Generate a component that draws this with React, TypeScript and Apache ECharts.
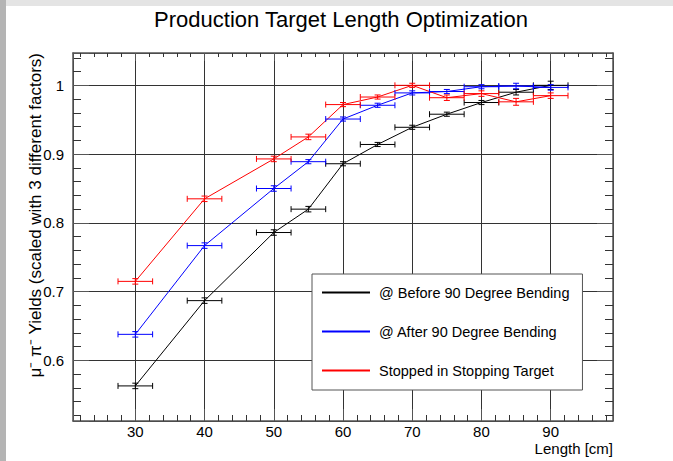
import React, { useEffect, useRef } from "react";
import * as echarts from "echarts";

const lengths = [30, 40, 50, 55, 60, 65, 70, 75, 80, 85, 90];
const lengthErr = [2.5, 2.5, 2.5, 2.5, 2.5, 2.5, 2.5, 2.5, 2.5, 2.5, 2.5];
const beforeYield = [0.563, 0.687, 0.786, 0.82, 0.886, 0.914, 0.939, 0.958, 0.975, 0.99, 1.0];
const beforeErr = [0.004, 0.004, 0.004, 0.004, 0.003, 0.003, 0.003, 0.003, 0.003, 0.004, 0.006];
const afterYield = [0.638, 0.767, 0.85, 0.889, 0.951, 0.971, 0.989, 0.991, 0.998, 0.999, 0.997];
const afterErr = [0.004, 0.004, 0.004, 0.003, 0.003, 0.003, 0.003, 0.003, 0.003, 0.004, 0.004];
const stoppedYield = [0.715, 0.835, 0.893, 0.925, 0.972, 0.983, 1.0, 0.982, 0.988, 0.976, 0.985];
const stoppedErr = [0.004, 0.004, 0.004, 0.004, 0.003, 0.003, 0.003, 0.004, 0.004, 0.005, 0.004];
const seriesNames = [
  "@ Before 90 Degree Bending",
  "@ After 90 Degree Bending",
  "Stopped in Stopping Target",
];
const seriesColors = ["#000000", "#0000ff", "#ff0000"];
const xRange = [21, 99];
const yRange = [0.512, 1.047];
const titleText = "Production Target Length Optimization";
const yTitle = "\u03bc\u207b \u03c0\u207b Yields (scaled with 3 different factors)";
const xTitle = "Length [cm]";

const FONT = "'Liberation Sans', Arial, Helvetica, sans-serif";

function errorBarRenderer(color: string) {
  return (params: any, api: any) => {
    const x = api.value(0);
    const y = api.value(1);
    const ex = api.value(2);
    const ey = api.value(3);
    const c = api.coord([x, y]);
    const l = api.coord([x - ex, y]);
    const r = api.coord([x + ex, y]);
    const t = api.coord([x, y + ey]);
    const b = api.coord([x, y - ey]);
    const cap = 3;
    const style = { stroke: color, lineWidth: 1 };
    const ln = (x1: number, y1: number, x2: number, y2: number) => ({
      type: "line",
      shape: { x1, y1, x2, y2 },
      style,
    });
    return {
      type: "group",
      children: [
        ln(l[0], c[1], r[0], c[1]),
        ln(l[0], c[1] - cap, l[0], c[1] + cap),
        ln(r[0], c[1] - cap, r[0], c[1] + cap),
        ln(c[0], t[1], c[0], b[1]),
        ln(c[0] - cap, t[1], c[0] + cap, t[1]),
        ln(c[0] - cap, b[1], c[0] + cap, b[1]),
      ],
    };
  };
}

export default function App() {
  const ref = useRef<HTMLDivElement>(null);

  useEffect(() => {
    document.body.style.margin = "0";
    if (!ref.current) return;
    const chart = echarts.init(ref.current, null, { renderer: "svg" });

    const yieldSets = [beforeYield, afterYield, stoppedYield];
    const errSets = [beforeErr, afterErr, stoppedErr];

    const lineSeries = yieldSets.map((ys, k) => ({
      type: "line",
      name: seriesNames[k],
      data: lengths.map((x, i) => [x, ys[i]]),
      symbol: "none",
      showSymbol: false,
      lineStyle: { color: seriesColors[k], width: 1 },
      itemStyle: { color: seriesColors[k] },
      z: 3,
    }));

    const errSeries = yieldSets.map((ys, k) => ({
      type: "custom",
      name: "err" + k,
      data: lengths.map((x, i) => [x, ys[i], lengthErr[i], errSets[k][i]]),
      encode: { x: 0, y: 1 },
      renderItem: errorBarRenderer(seriesColors[k]),
      z: 4,
    }));

    const frameColor = "#555555";
    const gridColor = "#333333";

    const baseX = {
      type: "value",
      min: xRange[0],
      max: xRange[1],
      splitNumber: 8,
      minInterval: 10,
      maxInterval: 10,
    };
    const baseY = {
      type: "value",
      min: yRange[0],
      max: yRange[1],
      splitNumber: 5,
      minInterval: 0.1,
      maxInterval: 0.1,
    };

    chart.setOption({
      animation: false,
      backgroundColor: "#ffffff",
      grid: { left: 73, right: 60, top: 53, bottom: 40, containLabel: false },
      graphic: [
        { type: "rect", shape: { x: 0, y: 0, width: 6, height: 461 }, style: { fill: "#b4b4b4" }, silent: true },
        { type: "rect", shape: { x: 6, y: 0, width: 667, height: 6 }, style: { fill: "#e4e4e4" }, silent: true },
        {
          type: "text",
          x: 341,
          y: 19,
          style: { text: titleText, fontSize: 22, fontFamily: FONT, fill: "#000", align: "center", verticalAlign: "middle" },
        },
        {
          type: "text",
          x: 35,
          y: 53,
          rotation: Math.PI / 2,
          style: { text: yTitle, fontSize: 17, fontFamily: FONT, fill: "#000", align: "right", verticalAlign: "middle" },
        },
        {
          type: "text",
          x: 613,
          y: 448,
          style: { text: xTitle, fontSize: 15, fontFamily: FONT, fill: "#000", align: "right", verticalAlign: "middle" },
        },
      ],
      legend: {
        data: seriesNames,
        orient: "vertical",
        left: 312,
        top: 274,
        itemWidth: 48,
        itemHeight: 14,
        itemGap: 24,
        padding: [11, 13, 12, 9],
        backgroundColor: "#ffffff",
        borderColor: frameColor,
        borderWidth: 1,
        borderRadius: 0,
        selectedMode: false,
        itemStyle: { opacity: 0 },
        textStyle: { fontSize: 14.5, color: "#000", fontFamily: FONT, padding: [0, 0, 0, 4] },
      },
      xAxis: [
        {
          ...baseX,
          position: "bottom",
          axisLine: { show: true, onZero: false, lineStyle: { color: frameColor, width: 1.5 } },
          axisTick: { show: true, inside: true, length: 12, lineStyle: { color: frameColor } },
          minorTick: { show: true, splitNumber: 5, length: 6, lineStyle: { color: gridColor } },
          splitLine: { show: true, lineStyle: { color: gridColor, width: 1 } },
          axisLabel: { showMinLabel: false, showMaxLabel: false, fontSize: 15, color: "#000", margin: 3, fontFamily: FONT },
        },
        {
          ...baseX,
          position: "top",
          axisLine: { show: true, onZero: false, lineStyle: { color: frameColor, width: 1.5 } },
          axisTick: { show: true, inside: true, length: 8, lineStyle: { color: frameColor } },
          minorTick: { show: true, splitNumber: 5, length: 4, lineStyle: { color: gridColor } },
          splitLine: { show: false },
          axisLabel: { show: false },
        },
      ],
      yAxis: [
        {
          ...baseY,
          position: "left",
          axisLine: { show: true, onZero: false, lineStyle: { color: frameColor, width: 1.5 } },
          axisTick: { show: true, inside: true, length: 16, lineStyle: { color: frameColor } },
          minorTick: { show: true, splitNumber: 5, length: 8, lineStyle: { color: gridColor } },
          splitLine: { show: true, lineStyle: { color: gridColor, width: 1 } },
          axisLabel: { showMinLabel: false, showMaxLabel: false, fontSize: 15, color: "#000", margin: 9, fontFamily: FONT },
        },
        {
          ...baseY,
          position: "right",
          axisLine: { show: true, onZero: false, lineStyle: { color: frameColor, width: 1.5 } },
          axisTick: { show: true, inside: true, length: 16, lineStyle: { color: frameColor } },
          minorTick: { show: true, splitNumber: 5, length: 8, lineStyle: { color: gridColor } },
          splitLine: { show: false },
          axisLabel: { show: false },
        },
      ],
      series: [...lineSeries, ...errSeries],
    });

    return () => {
      chart.dispose();
    };
  }, []);

  return <div ref={ref} style={{ width: 673, height: 461 }} />;
}
